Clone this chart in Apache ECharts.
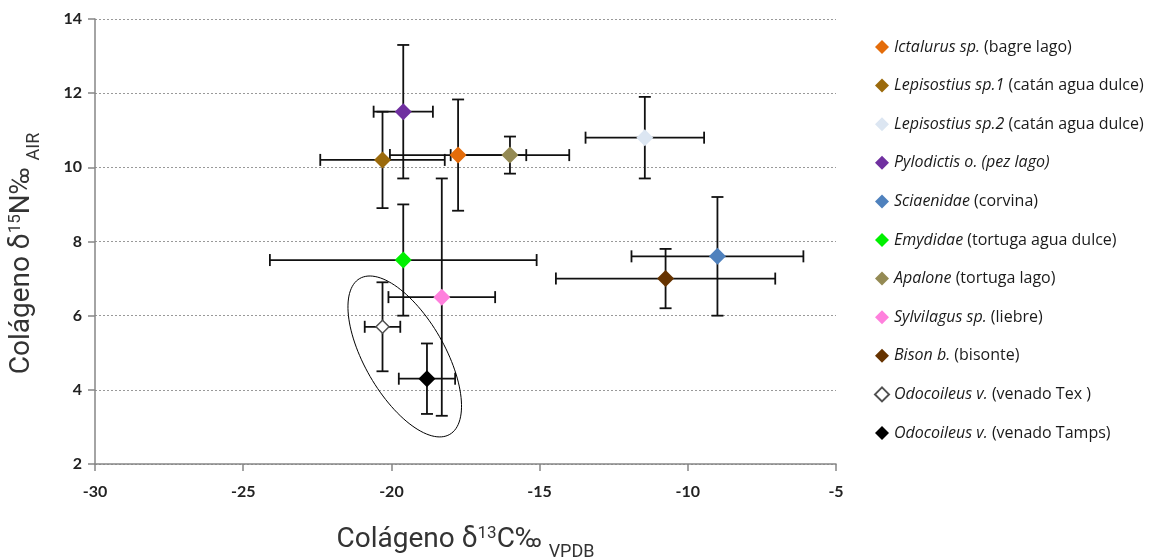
<!DOCTYPE html>
<html><head><meta charset="utf-8">
<script src="https://cdn.jsdelivr.net/npm/echarts@6/dist/echarts.min.js"></script>
<style>html,body{margin:0;padding:0;background:#fff;overflow:hidden}#c{width:1162px;height:558px}</style>
</head><body><div id="c"></div>
<script>
// ---- data ----
const speciesItalic = ['Ictalurus sp.', 'Lepisostius sp.1', 'Lepisostius sp.2', 'Pylodictis o. (pez lago)', 'Sciaenidae', 'Emydidae', 'Apalone', 'Sylvilagus sp.', 'Bison b.', 'Odocoileus v.', 'Odocoileus v.'];
const speciesCommon = ['(bagre lago)', '(catán agua dulce)', '(catán agua dulce)', '', '(corvina)', '(tortuga agua dulce)', '(tortuga lago)', '(liebre)', '(bisonte)', '(venado Tex )', '(venado Tamps)'];
const d13C = [-17.75, -20.3, -11.45, -19.6, -9.0, -19.6, -16.0, -18.3, -10.75, -20.3, -18.8];
const d15N = [10.33, 10.2, 10.8, 11.5, 7.6, 7.5, 10.33, 6.5, 7.0, 5.7, 4.3];
const err13C = [2.3, 2.1, 2.0, 1.0, 2.9, 4.5, 2.0, 1.8, 3.7, 0.6, 0.95];
const err15N = [1.5, 1.3, 1.1, 1.8, 1.6, 1.5, 0.5, 3.2, 0.8, 1.2, 0.95];
const ellipseCenter = [-19.55, 4.9];
const xTicks = [-30, -25, -20, -15, -10, -5];
const yTicks = [2, 4, 6, 8, 10, 12, 14];

// ---- styles ----
const colors = ['#E46C0A', '#9B6A0C', '#DCE6F2', '#7030A0', '#4F81BD', '#00F000', '#948A54', '#FF80DD', '#663300', '#FFFFFF', '#000000'];
const borders = [null, null, null, null, null, null, null, null, null, '#505050', null];
const titleFont = 'Liberation Sans Narrow, Arial Narrow, Roboto, sans-serif';

const names = speciesItalic.map((s, i) => s + (speciesCommon[i] ? ' ' + speciesCommon[i] : ''));

const chart = echarts.init(document.getElementById('c'), null, {renderer: 'canvas', width: 1162, height: 558});

const series = [];
// error bars
series.push({
  type: 'custom',
  name: 'err',
  z: 1,
  silent: true,
  data: d13C.map((x, i) => [x, d15N[i], err13C[i], err15N[i]]),
  encode: {x: 0, y: 1},
  renderItem: function (params, api) {
    const x = api.value(0), y = api.value(1), ex = api.value(2), ey = api.value(3);
    const l = api.coord([x - ex, y]), r = api.coord([x + ex, y]);
    const t = api.coord([x, y + ey]), b = api.coord([x, y - ey]);
    const cap = 6;
    const st = {stroke: '#111', lineWidth: 1.8};
    return {type: 'group', children: [
      {type: 'line', shape: {x1: l[0], y1: l[1], x2: r[0], y2: r[1]}, style: st},
      {type: 'line', shape: {x1: l[0], y1: l[1] - cap, x2: l[0], y2: l[1] + cap}, style: st},
      {type: 'line', shape: {x1: r[0], y1: r[1] - cap, x2: r[0], y2: r[1] + cap}, style: st},
      {type: 'line', shape: {x1: t[0], y1: t[1], x2: b[0], y2: b[1]}, style: st},
      {type: 'line', shape: {x1: t[0] - cap, y1: t[1], x2: t[0] + cap, y2: t[1]}, style: st},
      {type: 'line', shape: {x1: b[0] - cap, y1: b[1], x2: b[0] + cap, y2: b[1]}, style: st}
    ]};
  }
});
// ellipse annotation
series.push({
  type: 'custom',
  name: 'ellipse',
  z: 1,
  silent: true,
  data: [ellipseCenter],
  encode: {x: 0, y: 1},
  renderItem: function (params, api) {
    const c = api.coord([api.value(0), api.value(1)]);
    const a = 90, b = 40, th = 60 * Math.PI / 180;
    const pts = [];
    for (let k = 0; k < 120; k++) {
      const t = k / 120 * Math.PI * 2;
      const px = a * Math.cos(t), py = b * Math.sin(t);
      pts.push([c[0] + px * Math.cos(th) - py * Math.sin(th), c[1] + px * Math.sin(th) + py * Math.cos(th)]);
    }
    return {type: 'polygon', shape: {points: pts}, style: {fill: null, stroke: '#000', lineWidth: 1}};
  }
});
names.forEach((n, i) => {
  const is = {color: colors[i], opacity: 1};
  if (borders[i]) { is.borderColor = borders[i]; is.borderWidth = 1.5; }
  series.push({
    type: 'scatter', name: n, z: 3,
    symbol: 'diamond', symbolSize: borders[i] ? 13 : 17,
    itemStyle: is,
    data: [[d13C[i], d15N[i]]]
  });
});

const italicMap = {};
names.forEach((n, i) => { italicMap[n] = i; });

function titleRich() {
  return {
    b: {fontFamily: titleFont, fontSize: 28, color: '#333', lineHeight: 36, verticalAlign: 'middle'},
    sup: {fontFamily: titleFont, fontSize: 17, color: '#333', lineHeight: 36, verticalAlign: 'top', padding: [3, 0, 0, 0]},
    sub: {fontFamily: titleFont, fontSize: 18, color: '#333', lineHeight: 36, verticalAlign: 'bottom', padding: [0, 0, -3, 0]}
  };
}

chart.setOption({
  animation: false,
  backgroundColor: '#fff',
  grid: {left: 95, width: 741, top: 19, height: 445, containLabel: false, outerBoundsMode: 'none'},
  xAxis: {
    type: 'value', min: xTicks[0], max: xTicks[xTicks.length - 1], interval: 5,
    axisLine: {show: true, lineStyle: {color: '#868686', width: 1.5}},
    axisTick: {show: true, length: 7, lineStyle: {color: '#868686', width: 1.5}},
    splitLine: {show: false},
    axisLabel: {margin: 20, color: '#222', fontFamily: 'Lato', fontWeight: 'bold', fontSize: 16},
    name: '{b|Colágeno δ}{sup|13}{b|C‰ }{sub|VPDB}',
    nameLocation: 'middle', nameGap: 58,
    nameTextStyle: {rich: titleRich()}
  },
  yAxis: {
    type: 'value', min: yTicks[0], max: yTicks[yTicks.length - 1], interval: 2,
    axisLine: {show: true, lineStyle: {color: '#868686', width: 1.5}},
    axisTick: {show: true, length: 7, lineStyle: {color: '#868686', width: 1.5}},
    splitLine: {show: true, lineStyle: {color: '#999', type: [2, 2], width: 1}},
    axisLabel: {margin: 13, color: '#222', fontFamily: 'Lato', fontWeight: 'bold', fontSize: 16},
    name: '{b|Colágeno δ}{sup|15}{b|N‰ }{sub|AIR}',
    nameLocation: 'middle', nameGap: 55,
    nameTextStyle: {padding: [0, 24, 0, 0], rich: titleRich()}
  },
  legend: {
    orient: 'vertical', left: 869, top: 33,
    itemWidth: 14, itemHeight: 14, itemGap: 20.6,
    selectedMode: false,
    data: names.map(n => ({name: n, icon: 'diamond'})),
    formatter: function (name) {
      const i = italicMap[name];
      return '{i|' + speciesItalic[i] + '}' + (speciesCommon[i] ? '{n| ' + speciesCommon[i] + '}' : '');
    },
    textStyle: {
      lineHeight: 18,
      rich: {
        i: {fontFamily: 'Open Sans', fontStyle: 'italic', fontSize: 16, color: '#1a1a1a'},
        n: {fontFamily: 'Open Sans', fontSize: 16, color: '#1a1a1a'}
      }
    }
  },
  series: series
});
</script>
</body></html>
